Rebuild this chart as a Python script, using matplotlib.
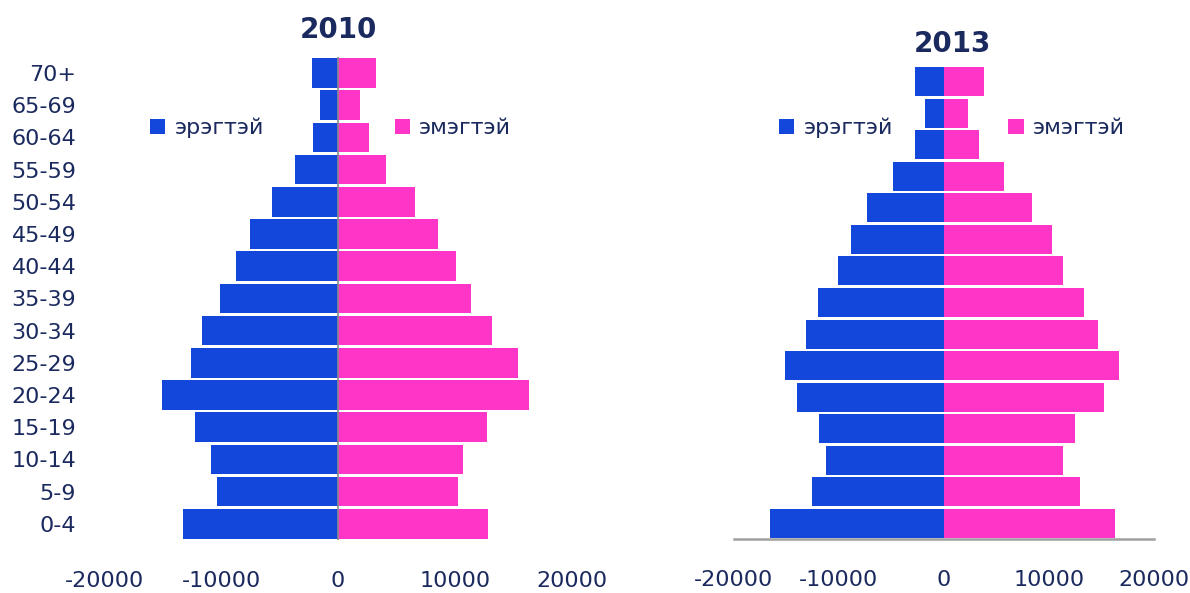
import matplotlib.pyplot as plt
import numpy as np

age_groups = ["0-4", "5-9", "10-14", "15-19", "20-24", "25-29", "30-34",
              "35-39", "40-44", "45-49", "50-54", "55-59", "60-64", "65-69", "70+"]

male_2010 = [13260, 10340, 10830, 12200, 15020, 12600, 11590,
             10050, 8710, 7560, 5640, 3670, 2160, 1570, 2220]
female_2010 = [12850, 10230, 10690, 12720, 16320, 15400, 13150,
               11380, 10100, 8560, 6570, 4110, 2680, 1920, 3250]

male_2013 = [16570, 12600, 11240, 11870, 14000, 15170, 13140,
             12000, 10130, 8860, 7300, 4860, 2730, 1810, 2760]
female_2013 = [16320, 12980, 11330, 12480, 15210, 16700, 14670,
               13330, 11370, 10250, 8410, 5680, 3300, 2290, 3810]

x_ticks = [-20000, -10000, 0, 10000, 20000]
labels = ["эрэгтэй", "эмэгтэй"]

BLUE = "#1347DC"
PINK = "#FF35C8"
TEXT = "#1B2A5E"

fig = plt.figure(figsize=(11.9, 5.93), dpi=100)
ax1 = fig.add_axes([0.0874, 0.0894, 0.3933, 0.8145])
ax2 = fig.add_axes([0.6168, 0.0911, 0.3529, 0.7976])

y = np.arange(len(age_groups))


def pyramid(ax, male, female, title, title_pad, title_x, leg_x, leg_y, colsp):
    bm = ax.barh(y, -np.array(male), height=0.92, color=BLUE, label=labels[0])
    bf = ax.barh(y, female, height=0.92, color=PINK, label=labels[1])
    ax.set_xlim(-20000, 20000)
    ax.set_ylim(-0.5, len(age_groups) - 0.5)
    ax.set_xticks(x_ticks)
    ax.set_xticklabels([str(v) for v in x_ticks])
    ax.tick_params(axis="both", length=0, labelsize=16, labelcolor=TEXT)
    ax.tick_params(axis="x", pad=22)
    for s in ax.spines.values():
        s.set_visible(False)
    ax.set_title(title, fontsize=20, fontweight="bold", color=TEXT,
                 pad=title_pad, x=title_x)
    leg = ax.legend(handles=[bm, bf], loc="center left",
                    bbox_to_anchor=(leg_x, leg_y), ncol=2, frameon=False,
                    fontsize=16, handlelength=0.7, handleheight=0.7,
                    handletextpad=0.4, columnspacing=colsp, borderpad=0,
                    borderaxespad=0)
    for t in leg.get_texts():
        t.set_color(TEXT)


pyramid(ax1, male_2010, female_2010, "2010", 14, 0.5, 0.098, 0.853, 5.9)
ax1.set_yticks(y)
ax1.set_yticklabels(age_groups)
ax1.tick_params(axis="y", pad=20)
ax1.axvline(0, color="#8C8C8C", lw=1.2)

pyramid(ax2, male_2013, female_2013, "2013", 10, 0.519, 0.107, 0.869, 5.2)
ax2.set_yticks([])
ax2.spines["bottom"].set_visible(True)
ax2.spines["bottom"].set_color("#A0A0A0")
ax2.spines["bottom"].set_linewidth(1.8)

fig.savefig("out.png", dpi=100)
